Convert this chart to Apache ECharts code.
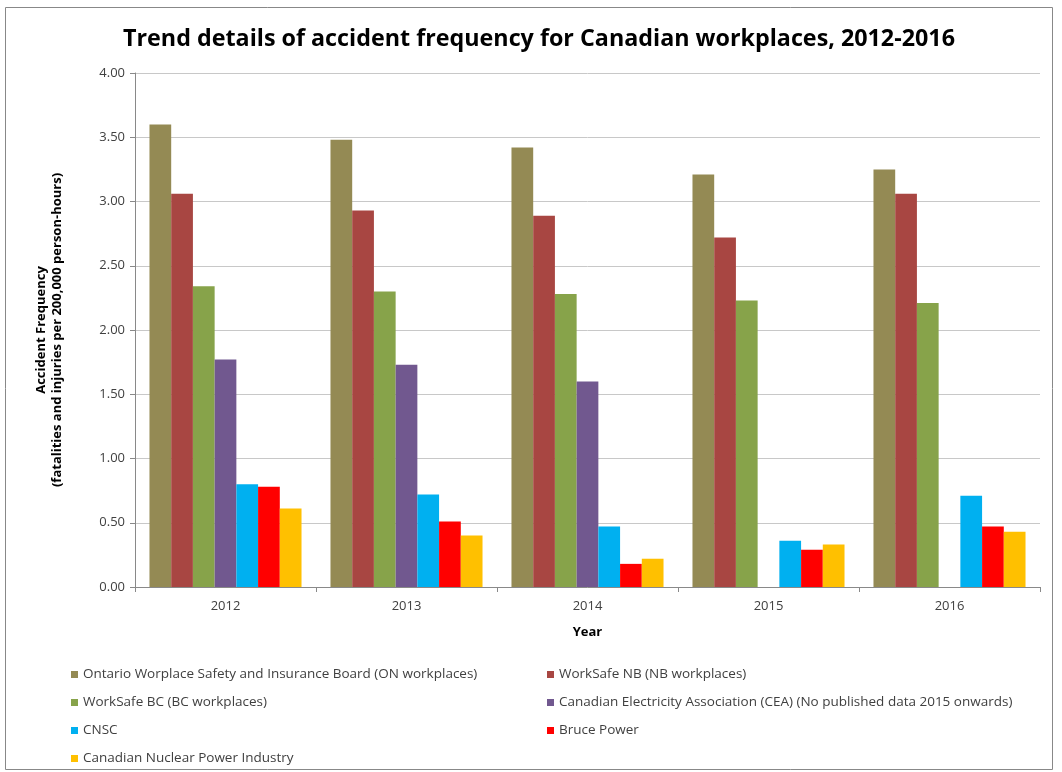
<!DOCTYPE html>
<html><head><meta charset="utf-8">
<script src="https://cdn.jsdelivr.net/npm/echarts@6/dist/echarts.min.js"></script>
<style>html,body{margin:0;padding:0;background:#fff}#c{width:1062px;height:772px}</style>
</head><body><div id="c"></div>
<script>
const categories = ['2012','2013','2014','2015','2016'];
const seriesNames = [
  'Ontario Worplace Safety and Insurance Board (ON workplaces)',
  'WorkSafe NB (NB workplaces)',
  'WorkSafe BC (BC workplaces)',
  'Canadian Electricity Association (CEA) (No published data 2015 onwards)',
  'CNSC',
  'Bruce Power',
  'Canadian Nuclear Power Industry'
];
const ontario = [3.60, 3.48, 3.42, 3.21, 3.25];
const nb = [3.06, 2.93, 2.89, 2.72, 3.06];
const bc = [2.34, 2.30, 2.28, 2.23, 2.21];
const cea = [1.77, 1.73, 1.60, null, null];
const cnsc = [0.80, 0.72, 0.47, 0.36, 0.71];
const bruce = [0.78, 0.51, 0.18, 0.29, 0.47];
const industry = [0.61, 0.40, 0.22, 0.33, 0.43];
const yTicks = [0, 0.5, 1, 1.5, 2, 2.5, 3, 3.5, 4];
const colors = ['#948A54', '#A84642', '#87A34A', '#71588F', '#00B0F0', '#FF0000', '#FFC000'];

const FONT = '"Open Sans", sans-serif';
const values = [ontario, nb, bc, cea, cnsc, bruce, industry];
const chart = echarts.init(document.getElementById('c'));
const legendText = {fontFamily: FONT, fontSize: 13.5, color: '#404040', lineHeight: 15};
chart.setOption({
  animation: false,
  color: colors,
  title: {
    text: 'Trend details of accident frequency for Canadian workplaces, 2012-2016',
    left: 534, top: 23, textAlign: 'center',
    textStyle: {fontFamily: FONT, fontSize: 23.3, fontWeight: 'bold', color: '#000'}
  },
  graphic: [{type: 'rect', shape: {x: 5.5, y: 7.5, width: 1047, height: 762}, style: {fill: 'none', stroke: '#888', lineWidth: 1}, silent: true}],
  legend: [
    {data: [seriesNames[0], seriesNames[2], seriesNames[4], seriesNames[6]], orient: 'vertical', left: 66, top: 662, itemWidth: 7, itemHeight: 7, itemGap: 13, textStyle: legendText, icon: 'rect'},
    {data: [seriesNames[1], seriesNames[3], seriesNames[5]], orient: 'vertical', left: 542, top: 662, itemWidth: 7, itemHeight: 7, itemGap: 13, textStyle: legendText, icon: 'rect'}
  ],
  grid: {left: 135, right: 22, top: 73, bottom: 185, containLabel: false},
  xAxis: {
    type: 'category', data: categories,
    name: 'Year', nameLocation: 'middle', nameGap: 39,
    nameTextStyle: {fontFamily: FONT, fontSize: 13, fontWeight: 'bold', color: '#000'},
    axisLine: {lineStyle: {color: '#898989'}},
    axisTick: {show: true, alignWithLabel: false, length: 5, lineStyle: {color: '#898989'}},
    axisLabel: {fontFamily: FONT, fontSize: 13, color: '#404040', margin: 13}
  },
  yAxis: {
    type: 'value', min: 0, max: 4, interval: 0.5,
    name: 'Accident Frequency\n(fatalities and injuries per 200,000 person-hours)',
    nameLocation: 'middle', nameGap: 70, nameRotate: 90,
    nameTextStyle: {fontFamily: FONT, fontSize: 13, fontWeight: 'bold', color: '#000', lineHeight: 16},
    axisLine: {show: true, lineStyle: {color: '#898989'}},
    axisTick: {show: true, length: 5, lineStyle: {color: '#898989'}},
    splitLine: {lineStyle: {color: '#c8c8c8'}},
    axisLabel: {fontFamily: FONT, fontSize: 13, color: '#404040', margin: 10,
      formatter: v => yTicks.includes(v) ? v.toFixed(2) : ''}
  },
  series: seriesNames.map((n, i) => ({
    name: n, type: 'bar', data: values[i],
    barGap: '0%', barCategoryGap: '16%',
    itemStyle: {color: colors[i]}
  }))
});
</script></body></html>
